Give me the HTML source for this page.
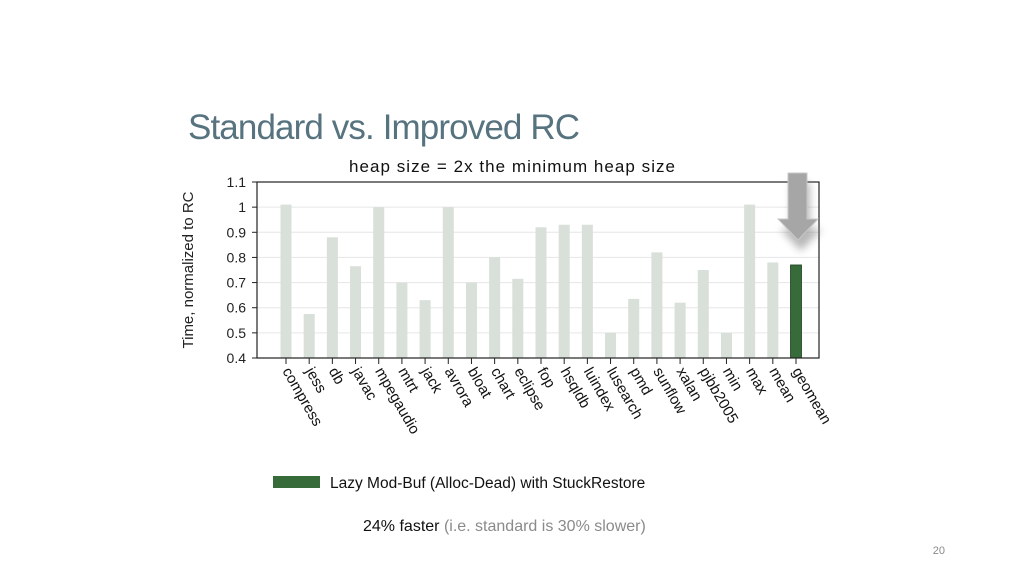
<!DOCTYPE html>
<html><head><meta charset="utf-8"><style>
body{margin:0;background:#fff;width:1024px;height:576px;overflow:hidden}
svg{display:block;font-family:"Liberation Sans",sans-serif}
</style></head><body>
<svg id="s" width="1024" height="576" viewBox="0 0 1024 576">
<defs>
<filter id="sh" x="-50%" y="-50%" width="200%" height="200%"><feGaussianBlur stdDeviation="4"/></filter>
</defs>
<text x="188" y="139" font-size="35" fill="#56737f" textLength="392">Standard vs. Improved RC</text>
<text x="512" y="172" font-size="17" fill="#111" text-anchor="middle" textLength="326">heap size = 2x the minimum heap size</text>
<g id="grid"></g>
<g id="bars"></g>
<rect x="257" y="182" width="562" height="176" fill="none" stroke="#222" stroke-width="1.2"/>
<g id="axes"></g>
<text transform="translate(193,270) rotate(-90)" font-size="15" fill="#222" text-anchor="middle">Time, normalized to RC</text>
<g>
<path d="M788,178 h19 v46 h12 l-21,22 l-21,-22 h11 z" fill="#888" opacity="0.6" filter="url(#sh)" transform="translate(3,5)"/>
<path d="M788,173 h19 v46 h11 l-20,21 l-20,-21 h10 z" fill="#a6a6a6" stroke="#c8c8c8" stroke-width="1"/>
</g>
<rect x="273" y="476" width="47" height="12" fill="#386b3a"/>
<text x="330" y="488" font-size="15.5" fill="#111">Lazy Mod-Buf (Alloc-Dead) with StuckRestore</text>
<text x="363" y="531" font-size="16" fill="#111">24% faster <tspan fill="#8a8a8a">(i.e. standard is 30% slower)</tspan></text>
<text x="945" y="554" font-size="11" fill="#8a8a8a" text-anchor="end">20</text>
</svg>
<script>
const categories=["compress","jess","db","javac","mpegaudio","mtrt","jack","avrora","bloat","chart","eclipse","fop","hsqldb","luindex","lusearch","pmd","sunflow","xalan","pjbb2005","min","max","mean","geomean"];
const values=[1.01,0.575,0.88,0.765,1.0,0.70,0.63,1.0,0.70,0.80,0.715,0.92,0.93,0.93,0.50,0.635,0.82,0.62,0.75,0.50,1.01,0.78,0.77];
const yTicks=[0.4,0.5,0.6,0.7,0.8,0.9,1,1.1];
const yTickLabels=["0.4","0.5","0.6","0.7","0.8","0.9","1","1.1"];
const NS="http://www.w3.org/2000/svg";
const y0=358,y1=182,vmin=0.4,vmax=1.1;
function yS(v){return y0-(v-vmin)/(vmax-vmin)*(y0-y1);}
const x0=286,x1=796;
function xS(i){return x0+i*(x1-x0)/(categories.length-1);}
function mk(t,a,p){const e=document.createElementNS(NS,t);for(const k in a)e.setAttribute(k,a[k]);p.appendChild(e);return e;}
const grid=document.getElementById('grid'),bars=document.getElementById('bars'),axes=document.getElementById('axes');
yTicks.forEach((v,i)=>{
  const y=yS(v);
  if(i>0&&i<yTicks.length-1){const g=mk('line',{x1:257,x2:819,y1:y,y2:y,stroke:'#e6e6e6','stroke-width':1},grid);
  
  }
  const tk=mk('line',{x1:252,x2:257,y1:y,y2:y,stroke:'#222'},axes);
  
  
  const t=mk('text',{x:246,y:y+5,'font-size':14,'text-anchor':'end',fill:'#222'},axes);
  t.textContent=yTickLabels[i];
  
  
});
categories.forEach((c,i)=>{
  const x=xS(i),last=i===categories.length-1;
  const b=mk('rect',{x:x-5.5,width:11,y:yS(values[i]),height:y0-yS(values[i]),fill:last?'#386b3a':'#d9dfd9'},bars);
  if(last){b.setAttribute('stroke','#1e3f1f');b.setAttribute('stroke-width','0.8');}
  
  
  const tk=mk('line',{x1:x,x2:x,y1:y0,y2:y0+6,stroke:'#222'},axes);
  
  
  const t=mk('text',{transform:`translate(${x-4},${y0+13}) rotate(60)`,'font-size':15,fill:'#111'},axes);
  t.textContent=c;
  
  
});
</script>
</body></html>
